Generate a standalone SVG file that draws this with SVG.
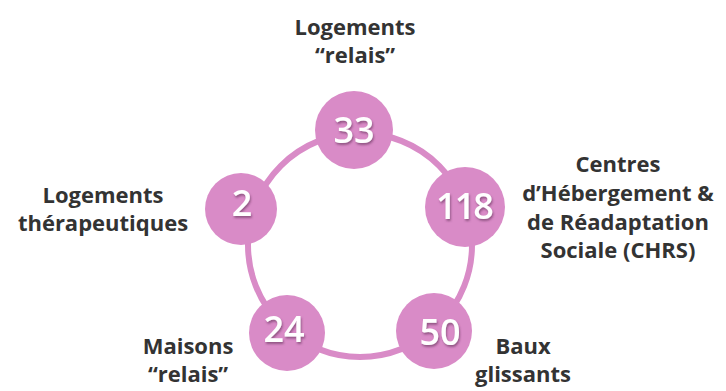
<svg xmlns="http://www.w3.org/2000/svg" width="726" height="391" viewBox="0 0 726 391">
<defs>
<filter id="sh" x="-20%" y="-20%" width="140%" height="140%">
<feDropShadow dx="1" dy="2" stdDeviation="1" flood-color="#5a2a50" flood-opacity="0.55"/>
</filter>
</defs>
<style>
.node{fill:#d98bc7}
.ring{fill:none;stroke:#d98bc7;stroke-width:6}
.num{font-family:"Open Sans","DejaVu Sans",sans-serif;font-size:36px;font-weight:600;fill:#ffffff;text-anchor:middle;filter:url(#sh)}
.lbl{font-family:"Open Sans","DejaVu Sans",sans-serif;font-size:22px;font-weight:700;fill:#333333;text-anchor:middle}
</style>
<rect width="726" height="391" fill="#ffffff"/>
<g id="connectors">
<circle class="ring" cx="360" cy="245" r="112"/>
</g>
<g id="node-relais">
<circle class="node" cx="354" cy="130" r="39"/>
<text class="num" x="354" y="143">33</text>
<text class="lbl" x="355" y="35">Logements</text>
<text class="lbl" x="355" y="63">“relais”</text>
</g>
<g id="node-chrs">
<circle class="node" cx="465" cy="207" r="40"/>
<text class="num" x="464" y="219" letter-spacing="-2">118</text>
<text class="lbl" x="618" y="172">Centres</text>
<text class="lbl" x="618" y="201">d’Hébergement &amp;</text>
<text class="lbl" x="618" y="230">de Réadaptation</text>
<text class="lbl" x="618" y="258">Sociale (CHRS)</text>
</g>
<g id="node-baux">
<circle class="node" cx="434" cy="331" r="38"/>
<text class="num" x="440" y="345">50</text>
<text class="lbl" x="523" y="354">Baux</text>
<text class="lbl" x="523" y="382">glissants</text>
</g>
<g id="node-maisons">
<circle class="node" cx="287" cy="333" r="38"/>
<text class="num" x="284" y="342">24</text>
<text class="lbl" x="188" y="354">Maisons</text>
<text class="lbl" x="188" y="382">“relais”</text>
</g>
<g id="node-therapeutiques">
<circle class="node" cx="241" cy="209" r="36"/>
<text class="num" x="242" y="216">2</text>
<text class="lbl" x="103" y="203">Logements</text>
<text class="lbl" x="103" y="231">thérapeutiques</text>
</g>
</svg>
